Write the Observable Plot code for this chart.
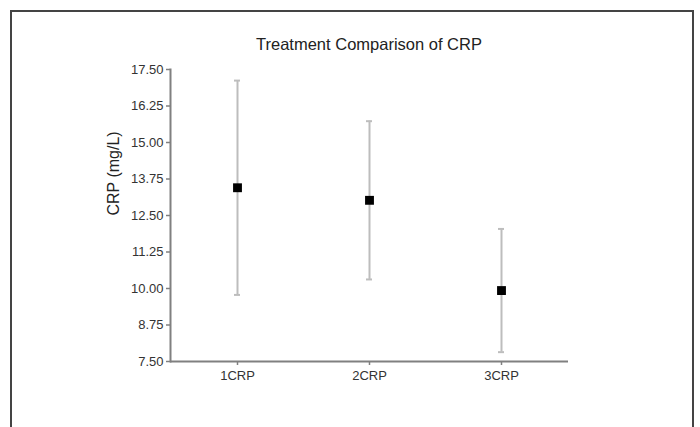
<!DOCTYPE html>
<html>
<head>
<meta charset="utf-8">
<script src="https://cdn.jsdelivr.net/npm/d3@7"></script>
<script src="https://cdn.jsdelivr.net/npm/@observablehq/plot@0.6"></script>
<style>
  html, body { margin: 0; padding: 0; background: #fff; }
  #wrap { position: relative; width: 700px; height: 427px; overflow: hidden; font-family: "Liberation Sans", Arial, sans-serif; }
  #border { position: absolute; left: 10px; top: 10px; width: 684px; height: 440px; border: 2px solid #444; box-sizing: border-box; }
  #title { position: absolute; left: 170px; width: 398px; top: 35px; text-align: center; font-size: 16.5px; color: #222; white-space: nowrap; }
  #chart { position: absolute; left: 0; top: 0; }
</style>
</head>
<body>
<div id="wrap">
  <div id="border"></div>
  <div id="chart"></div>
  <div id="title">Treatment Comparison of CRP</div>
</div>
<script>
const groups = ["1CRP", "2CRP", "3CRP"];
const means = [13.45, 13.02, 9.93];
const errors = [3.67, 2.71, 2.11];
const yTicks = [7.5, 8.75, 10, 11.25, 12.5, 13.75, 15, 16.25, 17.5];
const yLabel = "CRP (mg/L)";

const data = groups.map((g, i) => ({group: g, mean: means[i], lo: means[i] - errors[i], hi: means[i] + errors[i]}));

const chart = Plot.plot({
  width: 700,
  height: 427,
  marginLeft: 170,
  marginRight: 132,
  marginTop: 69,
  marginBottom: 66,
  style: {fontFamily: "'Liberation Sans', Arial, sans-serif", background: "transparent", overflow: "visible"},
  x: {type: "band", domain: groups, paddingInner: 0.955, paddingOuter: 0.4775},
  y: {domain: [7.5, 17.5]},
  marks: [
    Plot.ruleX(data, {x: "group", y1: "lo", y2: "hi", stroke: "#bdbdbd", strokeWidth: 2}),
    Plot.tickY(data, {x: "group", y: "lo", stroke: "#bdbdbd", strokeWidth: 2}),
    Plot.tickY(data, {x: "group", y: "hi", stroke: "#bdbdbd", strokeWidth: 2}),
    Plot.dot(data, {x: "group", y: "mean", symbol: "square", r: 5, fill: "#000", stroke: "none"}),
    Plot.ruleY([7.5], {stroke: "#808080", strokeWidth: 2}),
    Plot.frame({anchor: "left", stroke: "#808080", strokeWidth: 2}),
    Plot.axisY({ticks: yTicks, tickFormat: d => d.toFixed(2), tickSize: 4, tickPadding: 3, fontSize: 13, stroke: "#808080", strokeWidth: 1.5, color: "#333", label: null}),
    Plot.axisX({tickSize: 4, tickPadding: 5, fontSize: 13, stroke: "#808080", strokeWidth: 1.5, color: "#333", label: null}),
    Plot.text([yLabel], {frameAnchor: "left", rotate: -90, dx: -57, fontSize: 16, fill: "#222", text: d => d})
  ]
});
document.getElementById("chart").appendChild(chart);
</script>
</body>
</html>
